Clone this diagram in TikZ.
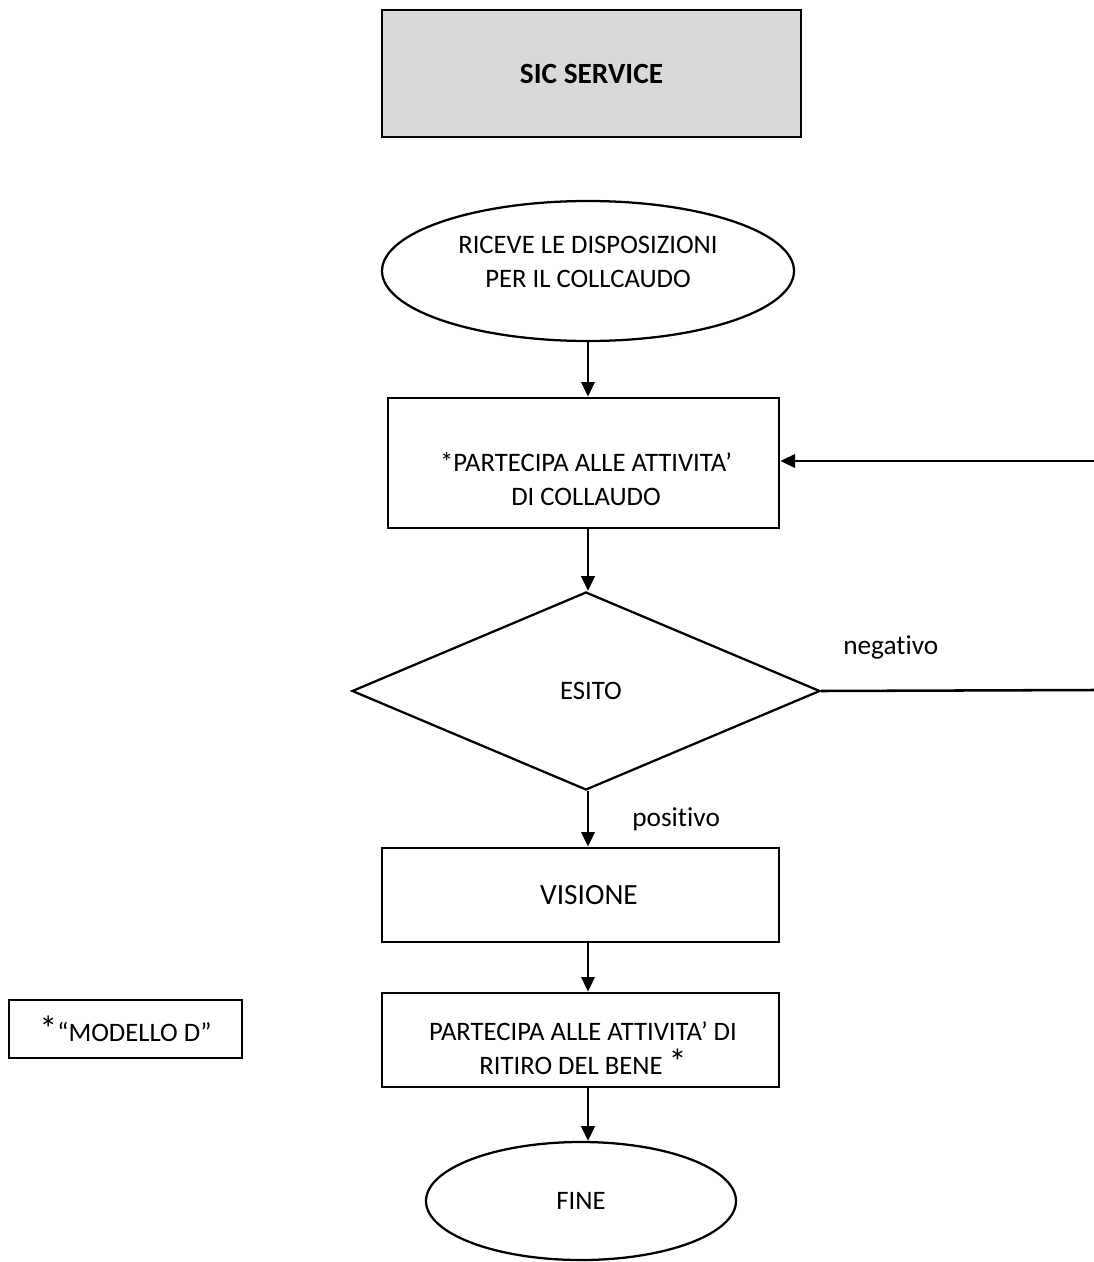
\documentclass[tikz,border=0pt]{standalone}
\usepackage{fontspec}
\setmainfont{Carlito}[Ligatures=NoCommon]
\usetikzlibrary{shapes.geometric,arrows.meta}
\begin{document}
\begin{tikzpicture}[x=0.75pt,y=-0.75pt,
  every node/.style={font=\fontsize{20}{25}\selectfont, align=center, inner sep=0pt},
  box/.style={draw, line width=2pt, rectangle},
  oval/.style={draw, line width=1.7pt, ellipse},
  dia/.style={draw, line width=1.7pt, diamond},
  conn/.style={line width=1.9pt},
  arr/.style={conn, -{Triangle[length=11pt,width=10pt]}},
  txt/.style={font=\fontsize{20}{25.5}\selectfont},
  bigtxt/.style={font=\fontsize{22}{26}\selectfont},
  lbl/.style={font=\fontsize{20.5}{25}\selectfont}]
\useasboundingbox (0,0) rectangle (1094,1262);
% shapes
\node[box, fill={rgb,255:red,217;green,217;blue,217}, minimum width=314.25pt, minimum height=95.25pt, font=\fontsize{22}{26}\selectfont\bfseries] (sic) at (591.5,73.5) {SIC SERVICE};
\node[oval, minimum width=309pt, minimum height=105pt] (ric) at (588,271) {};
\node[box, minimum width=293.25pt, minimum height=97.5pt] (part) at (583.5,463) {};
\node[dia, minimum width=351pt, minimum height=148.5pt] (esito) at (586,691) {};
\node[box, minimum width=297.75pt, minimum height=70.5pt] (vis) at (580.5,895) {};
\node[box, minimum width=297.75pt, minimum height=70.5pt] (rit) at (580.5,1040) {};
\node[oval, minimum width=232.5pt, minimum height=88.5pt] (fine) at (581,1201) {FINE};
\node[box, minimum width=174.75pt, minimum height=43.5pt] (mod) at (125.5,1029) {{\fontsize{27}{27}\selectfont *}“MODELLO D”};
% texts inside shapes
\node[txt] (ricT) at (588,262) {RICEVE LE DISPOSIZIONI\\PER IL COLLCAUDO};
\node[txt] (partT) at (586,479) {*PARTECIPA ALLE ATTIVITA’\\DI COLLAUDO};
\node[txt] (esitoT) at (591,691) {ESITO};
\node[bigtxt] (visT) at (589,895) {VISIONE};
\node[txt] (ritT) at (583,1048) {PARTECIPA ALLE ATTIVITA’ DI\\RITIRO DEL BENE {\fontsize{27}{27}\selectfont *}};
% connectors
\coordinate (r1) at (1094,461);
\coordinate (r2) at (1094,690);
\draw[arr] (588,0 |- ric.south) coordinate (a1) -- (a1 |- part.north);
\draw[arr] (588,0 |- part.south) coordinate (a2) -- (a2 |- esito.north);
\draw[arr] (588,0 |- esito.south) coordinate (a3) -- (a3 |- vis.north);
\draw[arr] (588,0 |- vis.south) coordinate (a4) -- (a4 |- rit.north);
\draw[arr] (588,0 |- rit.south) coordinate (a5) -- (a5 |- fine.north);
\draw[conn] (esito.east) -- (r2);
\draw[arr] (r1) -- (r1 -| part.east);
\node[lbl, anchor=base west] (neg) at (843,654) {negativo};
\node[lbl, anchor=base west] (pos) at (632,826) {positivo};
\end{tikzpicture}
\end{document}
